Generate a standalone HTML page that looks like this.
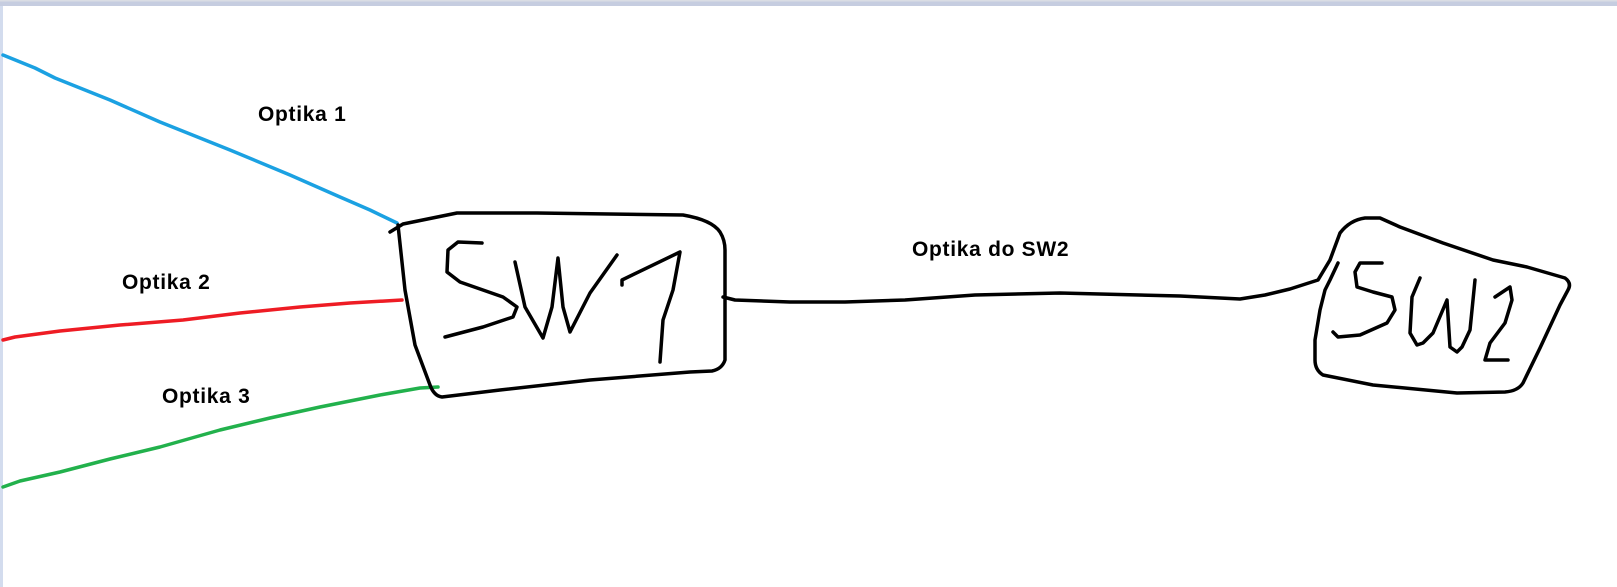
<!DOCTYPE html>
<html><head><meta charset="utf-8"><style>
html,body{margin:0;padding:0;background:#fff;width:1617px;height:587px;overflow:hidden;}
svg{position:absolute;left:0;top:0;}
text{font-family:"Liberation Sans",sans-serif;font-weight:bold;font-size:21px;letter-spacing:0.7px;fill:#000;}
</style></head><body>
<svg width="1617" height="587" viewBox="0 0 1617 587">
<rect x="0" y="0" width="1617" height="587" fill="#fff"/>
<rect x="0" y="0" width="1617" height="1.5" fill="#dadde4"/>
<rect x="0" y="1.5" width="1617" height="4.5" fill="#c6cde0"/>
<rect x="0" y="6" width="3" height="581" fill="#d3dcee"/>
<g fill="none" stroke-linecap="round" stroke-linejoin="round" stroke-width="3.5">
<path stroke="#1ba1e2" d="M3,55 L35,68 L55,78 L110,100 L160,122 L230,150 L290,175 L340,197 L370,210 L397,223"/>
<path stroke="#ee1c24" d="M3,340 L15,337 L60,331 L120,325 L183,320 L240,313 L300,307 L350,303 L402,300"/>
<path stroke="#22b14c" d="M3,487 L20,481 L60,472 L110,459 L160,447 L220,430 L270,418 L320,407 L380,395 L420,388 L438,387"/>
<g stroke="#000">
<path d="M390,232 L403,224 L457,213 L537,213 L683,215 Q712,220 720,232 Q725,240 725,250 L725,360 Q722,369 712,371 L690,372 L590,380 L500,390 L442,397 Q434,396 430,385 L415,345 L405,290 L398,225"/>
<path d="M482,243 L458,242 L448,250 L447,272 L460,282 L503,297 L517,307 L513,317 L483,327 L445,337"/>
<path d="M515,262 L525,307 L543,338 L552,307 L558,258 L563,307 L570,332 L590,293 L617,255"/>
<path d="M622,285 L622,280 L680,252 L673,290 L663,320 L660,362"/>
<path d="M723,297 L735,300 L790,302 L845,302 L905,300 L975,295 L1060,293 L1180,296 L1240,299 L1265,295 L1290,289 L1318,280 L1330,260 L1340,233 Q1350,220 1365,218 L1380,218 L1400,227 L1443,243 L1493,260 L1527,267 L1565,278 Q1572,283 1568,290 L1560,305 L1540,348 L1523,383 Q1518,391 1505,392 L1457,393 L1373,385 L1323,375 Q1315,370 1315,360 L1315,340 L1320,310 L1325,290 L1330,280 L1338,263"/>
<path d="M1382,263 L1360,263 L1355,272 L1357,287 L1373,292 L1392,297 L1395,310 L1387,323 L1360,335 L1338,337 L1333,332"/>
<path d="M1420,278 L1412,297 L1410,333 L1417,345 L1423,343 L1433,333 L1447,300 L1450,347 L1457,352 L1462,347 L1470,330 L1475,280"/>
<path d="M1495,297 L1510,287 L1512,300 L1505,323 L1490,343 L1485,360 L1508,360"/>
</g>
</g>
<text x="258" y="121">Optika 1</text>
<text x="122" y="289">Optika 2</text>
<text x="162" y="403">Optika 3</text>
<text x="912" y="256">Optika do SW2</text>
</svg>
</body></html>
